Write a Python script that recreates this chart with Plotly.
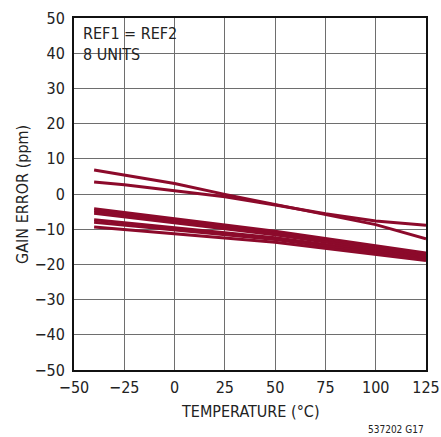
import plotly.graph_objects as go

# Temperature points (°C) and gain error (ppm) for the 8 units
temp_a = [-40, -25, 0, 25, 50, 75, 100, 125]
unit1 = [6.8, 5.4, 3.0, -0.1, -2.9, -5.7, -8.7, -12.7]
unit2 = [3.4, 2.6, 0.9, -0.8, -3.1, -5.6, -7.7, -8.9]

temp_b = [-40, 50, 125]
unit3 = [-4.2, -10.6, -16.8]
unit4 = [-4.8, -11.1, -17.3]
unit5 = [-5.5, -11.6, -17.8]
unit6 = [-7.3, -12.4, -18.2]
unit7 = [-8.0, -12.9, -18.6]
unit8 = [-9.4, -13.7, -18.9]

x_ticks = [-50, -25, 0, 25, 50, 75, 100, 125]
y_ticks = [-50, -40, -30, -20, -10, 0, 10, 20, 30, 40, 50]

LINE_COLOR = "#8c0a2b"
FONT = "DejaVu Sans Condensed, Liberation Sans, sans-serif"
FS = 16

def lab(v):
    return str(v).replace("-", "\u2212")

fig = go.Figure()
series = [(temp_a, unit1), (temp_a, unit2),
          (temp_b, unit3), (temp_b, unit4), (temp_b, unit5),
          (temp_b, unit6), (temp_b, unit7), (temp_b, unit8)]
for xs, ys in series:
    fig.add_trace(go.Scatter(x=xs, y=ys, mode="lines",
                             line=dict(color=LINE_COLOR, width=3),
                             showlegend=False, hoverinfo="skip"))

fig.update_layout(
    width=441, height=437,
    margin=dict(l=74, r=15, t=18, b=67, autoexpand=False),
    paper_bgcolor="white", plot_bgcolor="white",
    font=dict(family=FONT, size=FS, color="#222"),
    xaxis=dict(range=[-50, 125], tickvals=x_ticks, ticktext=[lab(v) for v in x_ticks],
               showgrid=True, gridcolor="#6e6e6e", gridwidth=1,
               showline=True, linecolor="#111", linewidth=2, mirror=True,
               zeroline=False, ticks="", fixedrange=True, automargin=False,
               ticklabelstandoff=2),
    yaxis=dict(range=[-50, 50], tickvals=y_ticks, ticktext=[lab(v) for v in y_ticks],
               showgrid=True, gridcolor="#6e6e6e", gridwidth=1,
               showline=True, linecolor="#111", linewidth=2, mirror=True,
               zeroline=False, ticks="", fixedrange=True, automargin=False,
               ticklabelstandoff=4),
)

fig.add_shape(type="rect", xref="paper", yref="paper",
              x0=0.003, x1=0.30, y0=0.852, y1=0.997,
              fillcolor="white", line=dict(width=0), layer="between")

fig.add_annotation(xref="paper", yref="paper", x=0.02, y=0.99,
                   xanchor="left", yanchor="top", align="left", showarrow=False,
                   text="REF1 = REF2<br>8 UNITS", font=dict(size=FS, color="#222"))

fig.add_annotation(xref="paper", yref="paper", x=0.5, y=-0.117,
                   xanchor="center", yanchor="middle", showarrow=False,
                   text="TEMPERATURE (°C)", font=dict(size=FS, color="#222"))

fig.add_annotation(xref="paper", yref="paper", x=-0.148, y=0.5,
                   xanchor="center", yanchor="middle", showarrow=False, textangle=-90,
                   text="GAIN ERROR (ppm)", font=dict(size=FS, color="#222"))

fig.add_annotation(xref="paper", yref="paper", x=1.0, y=-0.17,
                   xanchor="right", yanchor="middle", showarrow=False,
                   text="537202 G17", font=dict(size=10, color="#222"))

fig.write_html("out.html", config={"displayModeBar": False},
               post_script="document.body.style.margin='0';document.body.style.overflow='hidden';")
